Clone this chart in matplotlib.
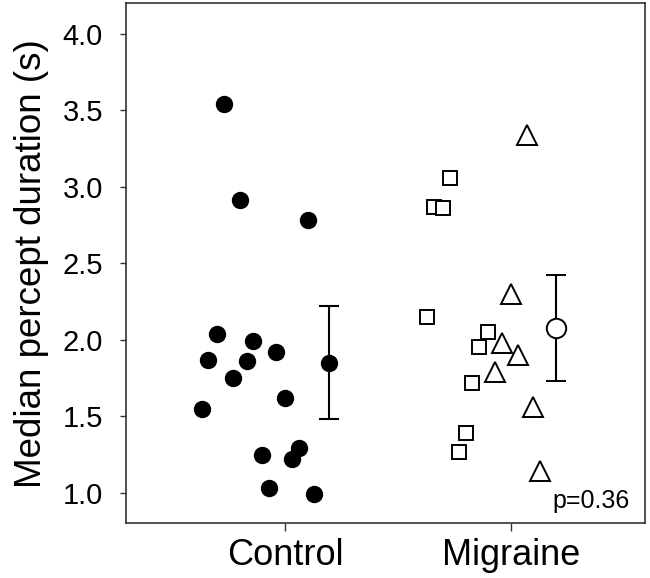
import matplotlib.pyplot as plt
import numpy as np

plt.rcParams["font.family"] = ["Liberation Sans", "DejaVu Sans"]

GROUPS = ["Control", "Migraine"]
GROUP_POS = [1, 2]

# Control subjects (x jitter, median duration)
control_x = [0.73, 0.80, 1.10, 0.70, 0.86, 0.66, 0.83, 0.96, 0.77, 1.00, 0.63, 1.06, 0.90, 1.03, 0.93, 1.13]
control_y = [3.54, 2.91, 2.78, 2.04, 1.99, 1.87, 1.86, 1.92, 1.75, 1.62, 1.55, 1.29, 1.25, 1.22, 1.03, 0.99]

# Migraine subgroup shown as squares
mig_sq_x = [1.73, 1.66, 1.70, 1.63, 1.90, 1.86, 1.83, 1.80, 1.77]
mig_sq_y = [3.06, 2.87, 2.86, 2.15, 2.05, 1.95, 1.72, 1.39, 1.27]

# Migraine subgroup shown as triangles
mig_tri_x = [2.07, 2.00, 1.96, 2.03, 1.93, 2.10, 2.13]
mig_tri_y = [3.34, 2.30, 1.98, 1.90, 1.79, 1.56, 1.14]

# group means with error bars
mean_x = [1.195, 2.20]
mean_y = [1.85, 2.08]
err_lo = [0.37, 0.35]
err_hi = [0.37, 0.34]

P_TEXT = "p=0.36"
YTICKS = [1.0, 1.5, 2.0, 2.5, 3.0, 3.5, 4.0]


def main() -> None:
    fig = plt.figure(figsize=[6.5, 5.78], dpi=100)
    ax = fig.add_axes([0.1938, 0.0943, 0.7985, 0.9005])

    ax.plot(control_x, control_y, "o", color="black", markersize=11.5, linestyle="none")
    ax.plot(mig_sq_x, mig_sq_y, "s", markerfacecolor="white", markeredgecolor="black",
            markeredgewidth=1.4, markersize=10.5, linestyle="none")
    ax.plot(mig_tri_x, mig_tri_y, "^", markerfacecolor="white", markeredgecolor="black",
            markeredgewidth=1.4, markersize=14, linestyle="none")

    ax.errorbar(mean_x[:1], mean_y[:1], yerr=[err_lo[:1], err_hi[:1]], fmt="o",
                color="black", markersize=11.5, capsize=7, elinewidth=1.5, capthick=1.5)
    ax.errorbar(mean_x[1:], mean_y[1:], yerr=[err_lo[1:], err_hi[1:]], fmt="o",
                color="black", markerfacecolor="white", markeredgewidth=1.4,
                markersize=14, capsize=7, elinewidth=1.5, capthick=1.5, zorder=3)

    ax.set_xlim(0.2955, 2.594)
    ax.set_ylim(0.8, 4.2)
    ax.set_xticks(GROUP_POS)
    ax.set_xticklabels(GROUPS, fontsize=26)
    ax.set_yticks(YTICKS)
    ax.set_yticklabels([f"{v:.1f}" for v in YTICKS], fontsize=21)
    ax.set_ylabel("Median percept duration (s)", fontsize=26.5, labelpad=10)

    ax.tick_params(axis="y", direction="out", length=4.5, width=1, color="#333333", pad=12)
    ax.tick_params(axis="x", direction="out", length=5.5, width=1, color="#333333", pad=5)
    for spine in ax.spines.values():
        spine.set_color("#333333")
        spine.set_linewidth(1.2)

    ax.text(0.97, 0.03, P_TEXT, transform=ax.transAxes, ha="right", va="baseline", fontsize=18)

    fig.savefig("out.png", dpi=100)


if __name__ == "__main__":
    main()
